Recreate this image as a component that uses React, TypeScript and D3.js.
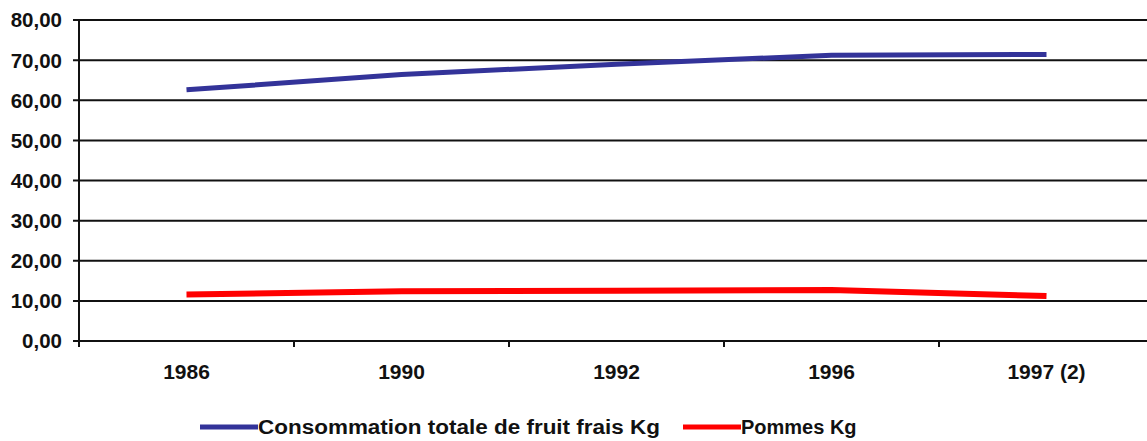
import React, { useRef, useEffect } from "react";
import * as d3 from "d3";

const years = ["1986", "1990", "1992", "1996", "1997 (2)"];
const totalFruit = [62.6, 66.4, 69.0, 71.2, 71.4];
const apples = [11.6, 12.4, 12.5, 12.7, 11.2];
const yTicks = [0, 10, 20, 30, 40, 50, 60, 70, 80];
const seriesNames = ["Consommation totale de fruit frais Kg", "Pommes Kg"];
const seriesColors = ["#333399", "#ff0000"];

const Chart = () => {
  const ref = useRef<SVGSVGElement>(null);

  useEffect(() => {
    if (!ref.current) return;
    const svg = d3.select(ref.current);
    svg.selectAll("*").remove();

    const left = 79;
    const top = 20;
    const bottom = 341;
    const band = 215;

    const x = d3
      .scaleBand()
      .domain(years)
      .range([left, left + band * years.length]);
    const y = d3.scaleLinear().domain([0, 80]).range([bottom, top]);
    const font = "Liberation Sans, Arial, sans-serif";

    // gridlines
    svg
      .append("g")
      .selectAll("line")
      .data(yTicks)
      .join("line")
      .attr("x1", left - 6)
      .attr("x2", 1147)
      .attr("y1", (d) => y(d))
      .attr("y2", (d) => y(d))
      .attr("stroke", "#111")
      .attr("stroke-width", 2);

    svg
      .append("g")
      .selectAll("text")
      .data(yTicks)
      .join("text")
      .attr("x", 62)
      .attr("y", (d) => y(d))
      .attr("dy", "0.36em")
      .attr("text-anchor", "end")
      .attr("font-family", font)
      .attr("font-weight", "bold")
      .attr("font-size", 20.5)
      .attr("fill", "#111")
      .text((d) => d3.format(".2f")(d).replace(".", ","));

    // axes
    svg
      .append("line")
      .attr("x1", left)
      .attr("x2", left)
      .attr("y1", top)
      .attr("y2", bottom + 6)
      .attr("stroke", "#111")
      .attr("stroke-width", 2);

    svg
      .append("g")
      .selectAll("line")
      .data(years)
      .join("line")
      .attr("x1", (d) => x(d)!)
      .attr("x2", (d) => x(d)!)
      .attr("y1", bottom)
      .attr("y2", bottom + 6)
      .attr("stroke", "#111")
      .attr("stroke-width", 2);

    svg
      .append("g")
      .selectAll("text")
      .data(years)
      .join("text")
      .attr("x", (d) => x(d)! + x.bandwidth() / 2)
      .attr("y", 379)
      .attr("text-anchor", "middle")
      .attr("font-family", font)
      .attr("font-weight", "bold")
      .attr("font-size", 21)
      .attr("fill", "#111")
      .text((d) => d);

    const line = d3
      .line<number>()
      .x((_, i) => x(years[i])! + x.bandwidth() / 2)
      .y((d) => y(d));

    [totalFruit, apples].forEach((vals, i) => {
      svg
        .append("path")
        .datum(vals)
        .attr("fill", "none")
        .attr("stroke", seriesColors[i])
        .attr("stroke-width", i === 0 ? 5 : 6)
        .attr("d", line);
    });

    // legend
    const legendX = [200, 683];
    const legendLen = [402, null];
    seriesNames.forEach((name, i) => {
      const g = svg.append("g").attr("transform", `translate(${legendX[i]},427)`);
      g.append("line")
        .attr("x1", 0)
        .attr("x2", 58)
        .attr("stroke", seriesColors[i])
        .attr("stroke-width", 5);
      const t = g
        .append("text")
        .attr("x", 58)
        .attr("y", 7)
        .attr("font-family", font)
        .attr("font-weight", "bold")
        .attr("font-size", 20)
        .attr("fill", "#111")
        .text(name);
      if (legendLen[i]) {
        t.attr("textLength", legendLen[i]!).attr("lengthAdjust", "spacingAndGlyphs");
      }
    });
  }, []);

  return <svg ref={ref} width={1147} height={441} style={{ display: "block" }} />;
};

export default function App() {
  return (
    <div style={{ position: "absolute", left: 0, top: 0, background: "#fff" }}>
      <Chart />
    </div>
  );
}
